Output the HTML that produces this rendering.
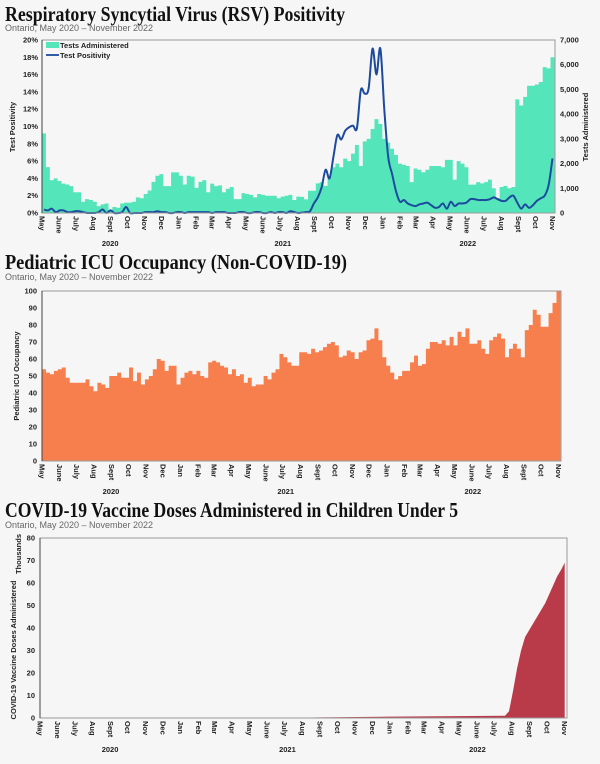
<!DOCTYPE html>
<html><head><meta charset="utf-8"><style>
html,body{margin:0;padding:0;background:#f6f6f6;}
svg{display:block;}
.t{font-family:"Liberation Serif",serif;font-weight:bold;fill:#111;}
.s{font-family:"Liberation Sans",sans-serif;fill:#666;font-size:9px;}
.a{font-family:"Liberation Sans",sans-serif;font-weight:bold;fill:#222;font-size:7.5px;}
</style></head><body>
<svg id="root" width="600" height="764" viewBox="0 0 600 764" xmlns="http://www.w3.org/2000/svg">
<rect x="0" y="0" width="600" height="764" fill="#f6f6f6"/>
<text class="t" x="5" y="21" font-size="21" textLength="340" lengthAdjust="spacingAndGlyphs">Respiratory Syncytial Virus (RSV) Positivity</text>
<text class="s" x="5" y="31" textLength="148" lengthAdjust="spacingAndGlyphs">Ontario, May 2020 – November 2022</text>
<text class="t" x="5" y="269" font-size="21" textLength="342" lengthAdjust="spacingAndGlyphs">Pediatric ICU Occupancy (Non-COVID-19)</text>
<text class="s" x="5" y="280" textLength="148" lengthAdjust="spacingAndGlyphs">Ontario, May 2020 – November 2022</text>
<text class="t" x="5" y="517" font-size="21" textLength="453" lengthAdjust="spacingAndGlyphs">COVID-19 Vaccine Doses Administered in Children Under 5</text>
<text class="s" x="5" y="528" textLength="148" lengthAdjust="spacingAndGlyphs">Ontario, May 2020 – November 2022</text>
<g id="c1"></g>
<g id="c2"></g>
<g id="c3"></g>
</svg>
<script>
// ---- Data ----
const testsPct1 = [9.2,5.3,3.8,4.0,3.7,3.4,3.3,3.1,2.4,2.4,1.3,1.6,1.5,1.3,0.8,1.0,1.1,0.4,0.7,0.6,1.1,1.2,1.2,1.3,1.8,1.7,2.2,2.6,3.6,4.3,4.5,3.1,3.1,4.7,4.7,4.3,3.3,4.3,4.2,2.9,3.6,3.8,2.4,3.4,3.1,3.2,2.4,2.8,3.0,1.6,1.6,2.3,2.2,2.1,1.8,2.2,2.1,2.0,2.0,2.0,1.7,1.9,2.0,2.1,1.5,1.9];
const testsCount2 = [650,550,900,900,1200,1250,1100,1500,1850,2000,1850,2200,2100,2400,2750,1900,2900,3000,3400,3800,3600,3000,2850,2600,2350,2000,1950,1900,1250,1800,1750,1650,1750,1900,1900,1900,1850,2150,2150,1350,2100,2000,1850,1150,1150,1250,1200,1250,1350,1000,600,1050,1100,1000,1050,4600,4350,4700,5150,5150,5200,5300,5900,5850,6300];
const positivity = [0.4,0.3,0.5,0.1,0.3,0.3,0.1,0.1,0.2,0.2,0.1,0,0,0,0.1,0.4,0,0.3,0,0,0.1,0.7,0,0,0,0,0.1,0.1,0.1,0.2,0.1,0.1,0,0,0.1,0.1,0,0.1,0.1,0.1,0.1,0.1,0.1,0,0.1,0.1,0.1,0,0,0,0.1,0.1,0,0,0.1,0.1,0,0,0.1,0,0.1,0.1,0,0.2,0.1,0,
0.05,0.1,0.2,1.1,1.8,3.0,5.0,4.0,6.5,9.0,8.5,9.5,9.9,10.1,9.8,14.2,13.8,14.4,19.0,16.0,19.0,12,6.5,4.5,2.5,1.3,1.5,1.1,0.9,0.8,1.0,1.1,1.2,
0.9,0.6,0.7,1.1,0.5,1.3,0.8,1.1,1.1,1.2,1.6,1.6,1.5,1.5,1.5,1.6,1.8,1.6,1.4,1.4,1.8,2.0,1.2,0.5,1.0,0.6,0.9,1.4,1.7,2.0,3.2,6.3];
const icu = [54,52,51,53,54,55,49,46,46,46,46,48,44,41,46,45,43,50,50,52,49,49,55,47,52,45,48,50,54,60,59,53,56,56,45,49,52,53,51,53,50,49,58,59,58,56,55,51,54,50,51,46,49,44,45,45,50,48,52,54,63,61,58,56,56,64,
64,63,66,64,65,67,69,70,68,61,62,65,64,60,64,65,71,72,78,71,61,56,52,48,50,53,53,58,62,56,57,66,70,70,69,71,68,73,68,76,73,78,69,69,71,66,63,71,73,75,72,61,66,69,66,61,77,80,89,86,79,79,87,93,100];
const vaxDates = ["2020-05-01","2021-06-15","2021-09-01","2022-01-01","2022-07-20","2022-07-27","2022-08-03","2022-08-10","2022-08-17","2022-08-24","2022-08-31","2022-09-07","2022-09-14","2022-09-21","2022-09-28","2022-10-05","2022-10-12","2022-10-19","2022-10-26","2022-11-01"];
const vaxThousands = [0,0,0.3,0.6,1,3,12,22,30,36,39,42,45,48,51,55,59,63,66,69];
const pctTicks = [0,2,4,6,8,10,12,14,16,18,20];
const testTicks = [0,1000,2000,3000,4000,5000,6000,7000];
const icuTicks = [0,10,20,30,40,50,60,70,80,90,100];
const vaxTicks = [0,10,20,30,40,50,60,70,80];
const monthNames = ["Jan","Feb","Mar","Apr","May","June","July","Aug","Sept","Oct","Nov","Dec"];
const yearLabels = ["2020","2021","2022"];
const yearLabelDays = [122,431,762];

const NS="http://www.w3.org/2000/svg";
const START=Date.UTC(2020,4,1), SPAN=918;
function dayOf(s){const p=s.split("-");return (Date.UTC(+p[0],+p[1]-1,+p[2])-START)/864e5;}
function mk(parent,tag,attrs,txt){const e=document.createElementNS(NS,tag);for(const k in attrs)e.setAttribute(k,attrs[k]);if(txt!==undefined)e.textContent=txt;parent.appendChild(e);return e;}
function monthTicks(){const r=[];for(let y=2020;y<=2022;y++)for(let m=0;m<12;m++){if(y===2020&&m<4)continue;if(y===2022&&m>10)continue;r.push({d:(Date.UTC(y,m,1)-START)/864e5,n:monthNames[m]});}return r;}
function smooth(pts){let d="M"+pts[0][0]+","+pts[0][1];for(let i=0;i<pts.length-1;i++){const p0=pts[Math.max(0,i-1)],p1=pts[i],p2=pts[i+1],p3=pts[Math.min(pts.length-1,i+2)];const c1x=p1[0]+(p2[0]-p0[0])/6,c1y=p1[1]+(p2[1]-p0[1])/6,c2x=p2[0]-(p3[0]-p1[0])/6,c2y=p2[1]-(p3[1]-p1[1])/6;d+=" C"+c1x+","+c1y+" "+c2x+","+c2y+" "+p2[0]+","+p2[1];}return d;}

function xAxis(g,x,yb,yearY){
  monthTicks().forEach(t=>{
    const tx=mk(g,"text",{class:"a",transform:"translate("+(x(t.d)-2.6)+","+(yb+3)+") rotate(90)"},t.n);
    
    
  });
  yearLabels.forEach((y,i)=>{
    const tx=mk(g,"text",{class:"a","font-size":"8.5",x:x(yearLabelDays[i]),y:yearY,"text-anchor":"middle"},y);
    
    
  });
}

// ---- Chart 1 ----
(function(){
  const g=document.getElementById("c1");
  const X0=42,X1=555,YT=40,YB=213;
  const x=d=>X0+d/SPAN*(X1-X0);
  const yP=p=>YB-p/20*(YB-YT);
  const yT=t=>YB-t/7000*(YB-YT);
  const tests=testsPct1.map(p=>p*350).concat(testsCount2);
  let d="M"+x(0)+","+YB;
  tests.forEach((t,i)=>{d+=" L"+x(i*7)+","+yT(t)+" L"+x(i*7+7)+","+yT(t);});
  d+=" L"+x(tests.length*7)+","+YB+" Z";
  const bars=mk(g,"path",{d:d,fill:"#55e5ba"});
  
  
  const line=mk(g,"path",{d:smooth(positivity.map((v,i)=>[x(i*7+3.5),yP(v)])),fill:"none",stroke:"#1c4b9e","stroke-width":"2"});
  
  
  const fr=mk(g,"rect",{x:X0,y:YT,width:X1-X0,height:YB-YT,fill:"none",stroke:"#9a9a9a","stroke-width":"1"});
  
  
  mk(g,"line",{x1:X0,y1:YT,x2:X0,y2:YB,stroke:"#444"});
  pctTicks.forEach(p=>{const t=mk(g,"text",{class:"a","font-size":"7",x:X0-4,y:yP(p)+2.5,"text-anchor":"end"},p+"%");
    
    });
  testTicks.forEach(v=>{const t=mk(g,"text",{class:"a","font-size":"7",x:X1+5,y:yT(v)+2.5},v.toLocaleString("en-US"));
    
    });
  const lt=mk(g,"text",{class:"a","font-size":"7.5",transform:"translate(15,127) rotate(-90)","text-anchor":"middle"},"Test Positivity");
  
  
  const rt=mk(g,"text",{class:"a","font-size":"7.5",transform:"translate(588,127) rotate(-90)","text-anchor":"middle"},"Tests Administered");
  
  
  const lg=mk(g,"g",{});
  
  
  mk(lg,"rect",{x:46,y:42,width:13,height:6,fill:"#55e5ba"});
  mk(lg,"text",{class:"a","font-size":"7.5",x:60,y:48},"Tests Administered");
  mk(lg,"line",{x1:46,y1:55,x2:59,y2:55,stroke:"#1c4b9e","stroke-width":"1.8"});
  mk(lg,"text",{class:"a","font-size":"7.5",x:60,y:58},"Test Positivity");
  xAxis(g,x,YB,246);
})();

// ---- Chart 2 ----
(function(){
  const g=document.getElementById("c2");
  const X0=42,X1=561,YT=291,YB=461;
  const x=d=>X0+d/SPAN*(X1-X0);
  const y=v=>YB-v/100*(YB-YT);
  let d="M"+x(0)+","+YB;
  icu.forEach((v,i)=>{d+=" L"+x(i*7)+","+y(v)+" L"+x(i*7+7)+","+y(v);});
  d+=" L"+x(icu.length*7)+","+YB+" Z";
  const b=mk(g,"path",{d:d,fill:"#f77f4d"});
  
  
  const fr=mk(g,"rect",{x:X0,y:YT,width:X1-X0,height:YB-YT,fill:"none",stroke:"#9a9a9a"});
  
  
  mk(g,"line",{x1:X0,y1:YT,x2:X0,y2:YB,stroke:"#444"});
  icuTicks.forEach(v=>{const t=mk(g,"text",{class:"a","font-size":"7",x:X0-5,y:y(v)+2.5,"text-anchor":"end"},v);
    
    });
  const at=mk(g,"text",{class:"a","font-size":"7.5",transform:"translate(19,376) rotate(-90)","text-anchor":"middle"},"Pediatric ICU Occupancy");
  
  
  xAxis(g,x,YB,494);
})();

// ---- Chart 3 ----
(function(){
  const g=document.getElementById("c3");
  const X0=40,X1=567,YT=538,YB=718;
  const x=d=>X0+d/SPAN*(X1-X0);
  const y=v=>YB-v/80*(YB-YT);
  let d="M"+x(0)+","+YB;
  vaxDates.forEach((s,i)=>{d+=" L"+x(dayOf(s))+","+y(vaxThousands[i]);});
  d+=" L"+x(dayOf(vaxDates[vaxDates.length-1]))+","+YB+" Z";
  const a=mk(g,"path",{d:d,fill:"#b93a48"});
  
  
  const fr=mk(g,"rect",{x:X0,y:YT,width:X1-X0,height:YB-YT,fill:"none",stroke:"#9a9a9a"});
  
  
  mk(g,"line",{x1:X0,y1:YT,x2:X0,y2:YB,stroke:"#444"});
  vaxTicks.forEach(v=>{const t=mk(g,"text",{class:"a","font-size":"7",x:X0-5,y:y(v)+2.5,"text-anchor":"end"},v);
    
    });
  const at=mk(g,"text",{class:"a","font-size":"7.5",transform:"translate(16,650) rotate(-90)","text-anchor":"middle"},"COVID-19 Vaccine Doses Administered");
  
  
  const th=mk(g,"text",{class:"a","font-size":"4.5",transform:"translate(21,554) rotate(-90)","text-anchor":"middle"},"Thousands");
  
  
  xAxis(g,x,YB,752);
})();
</script>
</body></html>
